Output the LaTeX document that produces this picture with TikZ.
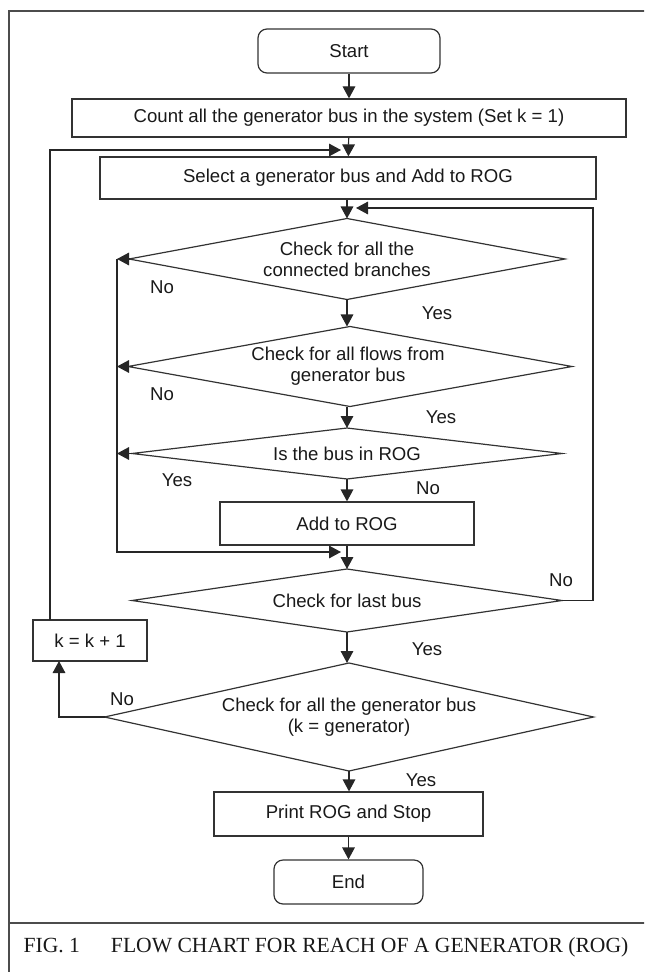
\documentclass[tikz,border=0pt]{standalone}
\usepackage{fontspec}
\setmainfont{Liberation Sans}
\newfontfamily\capfont{Liberation Serif}
\usetikzlibrary{arrows.meta}

% decision diamond: name, centre x, centre y, half width, half height
\newcommand{\decisionshape}[5]{%
  \coordinate (#1N) at (#2,#3-#5);
  \coordinate (#1S) at (#2,#3+#5);
  \coordinate (#1W) at (#2-#4,#3);
  \coordinate (#1E) at (#2+#4,#3);
  \draw[decision] (#1N) -- (#1E) -- (#1S) -- (#1W) -- cycle;}

\begin{document}
\begin{tikzpicture}[x=0.5pt,y=-0.5pt,
  line width=0.6pt,
  every node/.style={font=\fontsize{9.3}{10.5}\selectfont, text=black!90},
  flow/.style={draw=black!85, line width=0.6pt},
  arr/.style={flow, -{Triangle[length=6pt,width=6.3pt]}},
  procbox/.style={draw=black!80, line width=0.6pt, rectangle, inner sep=0pt},
  termbox/.style={draw=black!80, line width=0.6pt, rectangle, rounded corners=4.5pt, inner sep=0pt},
  decision/.style={draw=black!80, line width=0.6pt},
  dtext/.style={inner sep=0pt, align=center},
  lbl/.style={inner sep=0pt}]

\useasboundingbox (0,0) rectangle (644,972);
\clip (0,0) rectangle (644,972);

% outer frame and caption divider
\draw[draw=black!70, line width=0.7pt] (9,990) -- (9,11) -- (660,11);
\draw[draw=black!70, line width=0.7pt] (9,923) -- (660,923);

% flow chart boxes
\node[termbox, minimum width=91pt, minimum height=22pt] (start) at (349,51) {Start};
\node[procbox, minimum width=277pt, minimum height=19pt] (count) at (349,118)
  {Count all the generator bus in the system (Set k = 1)};
\node[procbox, minimum width=248pt, minimum height=21pt] (select) at (348,178)
  {Select a generator bus and Add to ROG};

\decisionshape{dbr}{347}{259}{218}{40.5}
\node[dtext] (dbrT) at (347,259) {Check for all the\\connected branches};

\decisionshape{dfl}{350}{366.5}{222}{40}
\node[dtext] (dflT) at (348,366.5) {Check for all flows from\\generator bus};

\decisionshape{din}{347}{453.5}{215}{25.5}
\node[dtext] (dinT) at (347,453.5) {Is the bus in ROG};

\node[procbox, minimum width=127pt, minimum height=21.5pt] (add) at (347,523.5) {Add to ROG};

\decisionshape{dlast}{347}{600.5}{215}{31.5}
\node[dtext] (dlastT) at (347,600.5) {Check for last bus};

\node[procbox, minimum width=57pt, minimum height=20.5pt] (kinc) at (90,640.5) {k = k + 1};

\decisionshape{dgen}{349}{717}{244.5}{54}
\node[dtext] (dgenT) at (349,717) {Check for all the generator bus\\(k = generator)};

\node[procbox, minimum width=134.5pt, minimum height=22pt] (print) at (348.5,814) {Print ROG and Stop};
\node[termbox, minimum width=74.5pt, minimum height=22pt] (end) at (348.5,882) {End};

% turning points of the loops
\coordinate (ktop) at (50,620);
\coordinate (toploopL) at (50,150);
\coordinate (toploopR) at (341,150);
\coordinate (rloopB) at (593,600.5);
\coordinate (rloopT) at (593,208);
\coordinate (rloopE) at (356,208);
\coordinate (lbusT) at (117,259);
\coordinate (lbusM) at (117,366.5);
\coordinate (lbusN) at (117,453.5);
\coordinate (lbusB) at (117,552);
\coordinate (lbusE) at (341,552);
\coordinate (nocorner) at (59,717);
\coordinate (kbot) at (59,661);

% main vertical flow
\draw[arr] (start) -- (count);
\draw[arr] (count) -- (select);
\draw[arr] (select.south -| dbrN) -- (dbrN);
\draw[arr] (dbrS) -- (dbrS |- dflN);
\draw[arr] (dbrS |- dflS) -- (dbrS |- dinN);
\draw[arr] (dinS) -- (dinS |- add.north);
\draw[arr] (dinS |- add.south) -- (dlastN);
\draw[arr] (dlastS) -- (dlastS |- dgenN);
\draw[arr] (dgenS) -- (dgenS |- print.north);
\draw[arr] (print) -- (end);

% "No" branches to the left collector line
\draw[arr] (dbrW) -- (lbusT);
\draw[arr] (dflW) -- (lbusM);
\draw[arr] (dinW) -- (lbusN);
\draw[arr] (lbusT) -- (lbusB) -- (lbusE);

% loop back from the last-bus check
\draw[arr] (dlastE) -- (rloopB) -- (rloopT) -- (rloopE);

% loop to the next generator bus
\draw[arr] (dgenW) -- (nocorner) -- (kbot);
\draw[arr] (ktop) -- (toploopL) -- (toploopR);

% branch labels
\node[lbl] (n1) at (162,287) {No};
\node[lbl] (y1) at (437,313) {Yes};
\node[lbl] (n2) at (162,394) {No};
\node[lbl] (y2) at (441,417) {Yes};
\node[lbl] (y3) at (177,480) {Yes};
\node[lbl] (n3) at (428,488) {No};
\node[lbl] (n4) at (561,580) {No};
\node[lbl] (y4) at (427,649) {Yes};
\node[lbl] (n5) at (122,699) {No};
\node[lbl] (y5) at (421,780) {Yes};

% caption
\node[anchor=west, inner sep=0pt, font=\capfont\fontsize{10.8}{12}\selectfont] (cap) at (23,947)
  {FIG. 1\hspace{15.5pt}FLOW CHART FOR REACH OF A GENERATOR (ROG)};
\end{tikzpicture}
\end{document}
